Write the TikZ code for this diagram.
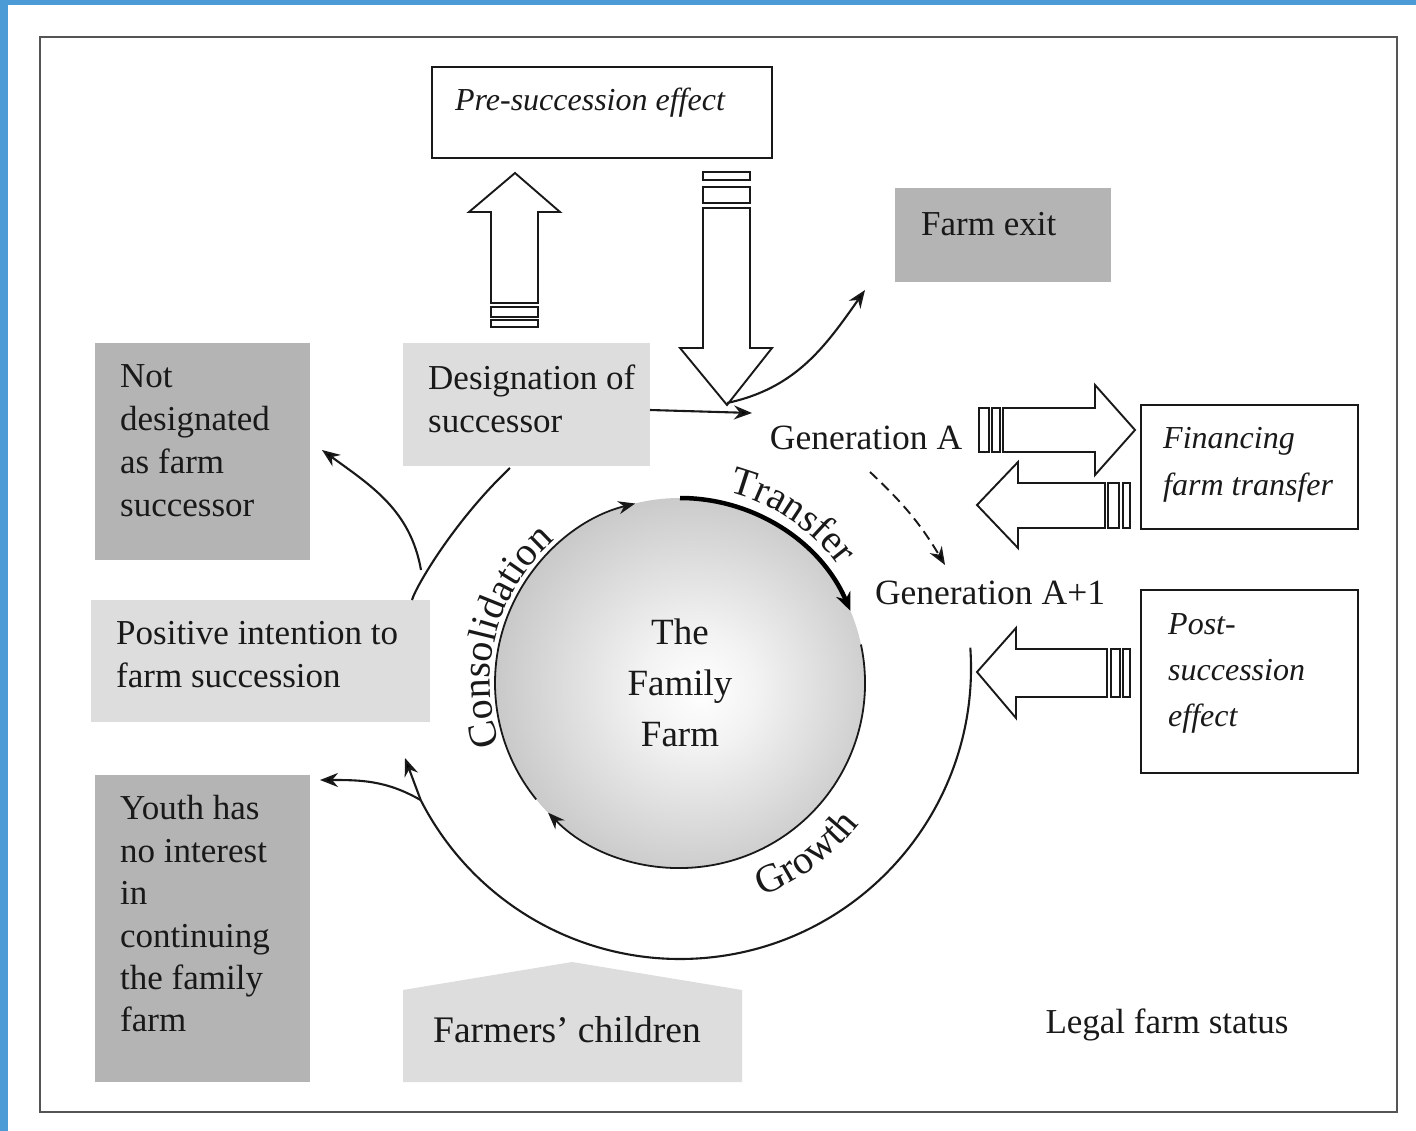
\documentclass[tikz,border=0pt]{standalone}
\usepackage{fontspec}
\setmainfont{Liberation Serif}
\usetikzlibrary{arrows.meta,decorations.text,calc}
\definecolor{blueedge}{RGB}{76,155,215}
\definecolor{darkfill}{RGB}{180,180,180}
\definecolor{lightfill}{RGB}{221,221,221}
\definecolor{framegray}{RGB}{85,85,85}
\definecolor{inkc}{RGB}{25,25,25}
\pgfdeclareradialshading{farmshade}{\pgfpoint{3bp}{-1bp}}{color(0bp)=(white); color(8bp)=(white!95!black); color(50bp)=(black!42)}
\newcommand\txtbody{\fontsize{35}{43}\selectfont}
\newcommand\txtital{\itshape\fontsize{32}{47}\selectfont}
\newcommand\arcfont{\fontsize{40}{40}\selectfont}
\begin{document}
\begin{tikzpicture}[x=1pt,y=1pt,
  conn/.style={draw=inkc, line width=2.1pt, -{Stealth[length=18pt,width=14pt]}},
  plainline/.style={draw=inkc, line width=2.1pt},
  boxbase/.style={anchor=north west, inner sep=0pt, outer sep=0pt},
  darkbox/.style={boxbase, fill=darkfill},
  lightbox/.style={boxbase, fill=lightfill},
  whitebox/.style={boxbase, fill=white, draw=inkc, line width=1.9pt},
  lbl/.style={anchor=west, align=left, inner sep=0pt, text=inkc},
  ctr/.style={align=center, inner sep=0pt, text=inkc},
  blockarrow/.style={draw=inkc, line width=1.9pt, fill=white, line join=miter},
  arcarrow/.style={draw=inkc, line width=1.8pt, -{Stealth[length=17pt,width=13pt]}},
]
% canvas
\useasboundingbox (0,0) rectangle (1416,-1131);
\fill[white] (0,0) rectangle (1416,-1131);
\fill[blueedge] (0,0) rectangle (8,-1131);
\fill[blueedge] (0,0) rectangle (1416,-5);
\draw[framegray, line width=2.4pt] (40,-37) rectangle (1397,-1112);

% boxes
\node[whitebox, minimum width=340pt, minimum height=91pt] (prebox) at (432,-67) {};
\node[darkbox, minimum width=216pt, minimum height=94pt] (exitbox) at (895,-188) {};
\node[darkbox, minimum width=215pt, minimum height=217pt] (ndbox) at (95,-343) {};
\node[lightbox, minimum width=247pt, minimum height=123pt] (dsbox) at (403,-343) {};
\node[lightbox, minimum width=339pt, minimum height=122pt] (pibox) at (91,-600) {};
\node[darkbox, minimum width=215pt, minimum height=307pt] (yhbox) at (95,-775) {};
\node[whitebox, minimum width=217pt, minimum height=124pt] (finbox) at (1141,-405) {};
\node[whitebox, minimum width=217pt, minimum height=183pt] (postbox) at (1141,-590) {};
\fill[lightfill] (403,-1082) -- (403,-990) -- (572,-962) -- (742,-990) -- (742,-1082) -- cycle;

% texts
\node[ctr, font=\txtital] (pretxt) at (590,-103) {Pre-succession effect};
\node[lbl, font=\txtbody] (exittxt) at (921,-224) {Farm exit};
\node[lbl, font=\txtbody] (ndtxt) at (120,-441) {Not\\designated\\as farm\\successor};
\node[lbl, font=\txtbody] (dstxt) at (428,-399) {Designation of\\successor};
\node[lbl, font=\txtbody] (pitxt) at (116,-655) {Positive intention to\\farm succession};
\node[lbl, font=\fontsize{35}{42.4}\selectfont] (yhtxt) at (120,-914) {Youth has\\no interest\\in\\continuing\\the family\\farm};
\node[ctr, font=\fontsize{37.5}{37.5}\selectfont] (fctxt) at (567,-1030) {Farmers’ children};
\node[ctr, font=\fontsize{35}{35}\selectfont] (lfs) at (1167,-1025) {Legal farm status};
\node[ctr, font=\fontsize{35.5}{35.5}\selectfont] (genA) at (866,-438) {Generation A};
\node[ctr, font=\fontsize{35.5}{35.5}\selectfont] (genB) at (990,-593) {Generation A+1};
\node[lbl, font=\txtital] (fintxt) at (1163,-465) {Financing\\farm transfer};
\node[lbl, font=\itshape\fontsize{32}{46}\selectfont] (posttxt) at (1168,-673) {Post-\\succession\\effect};

% the family farm
\node[circle, minimum size=370pt, inner sep=0pt, shade, shading=farmshade, ctr,
      font=\fontsize{37}{51}\selectfont] (farm) at (680,-683) {The\\Family\\Farm};
\coordinate (c) at (680,-683);
\draw[arcarrow] ([shift={(219:185)}]c) arc[start angle=219, end angle=104, radius=185];
\draw[draw=black, line width=4.5pt, -{Stealth[length=18pt,width=15pt]}] ([shift={(90:185)}]c) arc[start angle=90, end angle=23, radius=185];
\draw[arcarrow] ([shift={(12:185)}]c) arc[start angle=12, end angle=-135.5, radius=185];

% arc labels
\path[decorate, decoration={text along path, text align=center, text color=inkc, text={|\arcfont|Transfer}}]
  ([shift={(100:197)}]c) arc[start angle=100, end angle=12, radius=197];
\path[decorate, decoration={text along path, text align=center, text color=inkc, text={|\arcfont|Consolidation}}]
  ([shift={(240:190)}]c) arc[start angle=240, end angle=90, radius=190];
\path[decorate, decoration={text along path, text align=center, text color=inkc, text={|\arcfont|Growth}}]
  ([shift={(-102:228)}]c) arc[start angle=-102, end angle=-5, radius=228];

% outer cycle
\coordinate (c2) at (680,-668);
\draw[plainline] ([shift={(4:291)}]c2) arc[start angle=4, end angle=-153, radius=291] coordinate (jlow);
\coordinate (yhend) at (320,-780);
\coordinate (piend) at (405,-758);
\draw[conn] (jlow) to[out=150, in=0] (yhend);
\draw[conn] (jlow) -- (piend);

% positive intention -> designation, branch to not designated
\coordinate (pistart) at (412,-600);
\coordinate (jup) at (421,-570);
\coordinate (dsend) at (510,-468);
\coordinate (ndend) at (322,-450);
\draw[plainline] (pistart) .. controls (416,-586) and (455,-520) .. (dsend);
\draw[conn] (jup) to[out=100, in=-36] (ndend);

% block arrows
\draw[blockarrow] (491,-303) -- (491,-212) -- (469,-212) -- (515,-173) -- (560,-212) -- (538,-212) -- (538,-303) -- cycle;
\draw[blockarrow] (491,-307) rectangle (538,-317);
\draw[blockarrow] (491,-320) rectangle (538,-327);

\draw[blockarrow] (703,-172) rectangle (750,-180);
\draw[blockarrow] (703,-187) rectangle (750,-203);
\draw[blockarrow] (703,-208) -- (703,-348) -- (680,-348) -- (727,-405) -- (772,-348) -- (750,-348) -- (750,-208) -- cycle;

\draw[blockarrow] (979,-408) rectangle (989,-452);
\draw[blockarrow] (992,-408) rectangle (1000,-452);
\draw[blockarrow] (1003,-408) -- (1095,-408) -- (1095,-385) -- (1135,-430) -- (1095,-475) -- (1095,-452) -- (1003,-452) -- cycle;

\draw[blockarrow] (1105,-483) -- (1018,-483) -- (1018,-462) -- (977,-505) -- (1018,-548) -- (1018,-528) -- (1105,-528) -- cycle;
\draw[blockarrow] (1108,-483) rectangle (1119,-528);
\draw[blockarrow] (1123,-483) rectangle (1130,-528);

\draw[blockarrow] (1107,-649) -- (1016,-649) -- (1016,-628) -- (977,-672) -- (1016,-718) -- (1016,-697) -- (1107,-697) -- cycle;
\draw[blockarrow] (1111,-649) rectangle (1120,-697);
\draw[blockarrow] (1123,-649) rectangle (1130,-697);

% connectors near generation A
\coordinate (dsout) at (650,-410);
\coordinate (gaend) at (752,-413);
\coordinate (tipdown) at (727,-403);
\coordinate (exitend) at (865,-290);
\draw[conn] (dsout) -- (gaend);
\draw[conn] (tipdown) to[out=12, in=-125] (exitend);
\coordinate (dashstart) at (870,-472);
\coordinate (dashend) at (945,-565);
\draw[conn, line width=1.9pt, dash pattern=on 10pt off 6pt] (dashstart) to[bend left=8] (dashend);
\end{tikzpicture}
\end{document}
